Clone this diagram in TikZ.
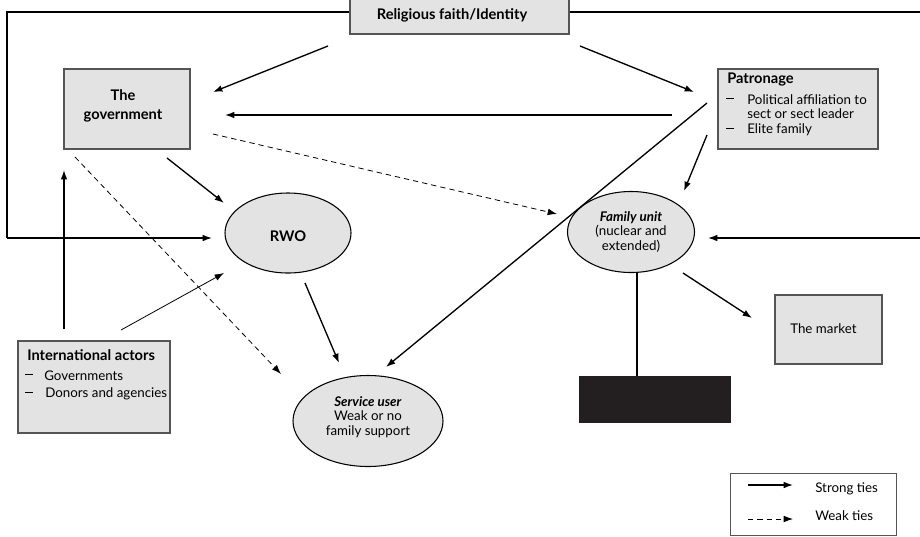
\documentclass[tikz,border=0pt]{standalone}
\usepackage{fontspec}
\setmainfont{Lato}
\usetikzlibrary{arrows.meta,fit,shapes.geometric}
\definecolor{boxfill}{HTML}{E3E3E3}
\definecolor{boxline}{HTML}{555555}
\definecolor{blk}{HTML}{231F20}
\newcommand{\mydash}{\rule[0.28em]{0.55em}{0.5pt}}
\begin{document}
\begin{tikzpicture}[x=0.75pt,y=-0.75pt,
 gbox/.style={draw=boxline,fill=boxfill,line width=0.8pt,inner sep=0pt},
 gell/.style={draw=black,fill=boxfill,ellipse,line width=0.8pt,inner sep=0pt},
 strong/.style={line width=1pt,-{Latex[length=7pt,width=5pt]}},
 thinarr/.style={line width=0.6pt,-{Latex[length=7pt,width=5pt]}},
 weak/.style={line width=0.6pt,dash pattern=on 4pt off 3pt,-{Latex[length=7pt,width=5pt]}},
 framel/.style={line width=1pt},
 txt/.style={font=\fontsize{10}{11}\selectfont,inner sep=0pt,align=center},
 ltxt/.style={font=\fontsize{10}{11}\selectfont,inner sep=0pt,anchor=west},
 btxt/.style={font=\fontsize{11}{11}\bfseries\selectfont,inner sep=0pt},
]
\useasboundingbox (0,0) rectangle (920,536);

% boxes
\node[gbox,fit={(350,-1) (569,34)}] (rel) {};
\node[gbox,fit={(64,69) (190,149)}] (gov) {};
\node[gbox,fit={(718,69) (878,149)}] (pat) {};
\node[gbox,fit={(18,341) (170,433)}] (intl) {};
\node[gbox,fit={(775,295) (882,364)}] (market) {};
\node[draw=blk,fill=blk,inner sep=0pt,fit={(579,376) (730,422)}] (blackbox) {};
\node[draw=boxline,line width=0.6pt,inner sep=0pt,fit={(730,473) (896,535)}] (legend) {};

% ellipses
\node[gell,minimum width=94.5pt,minimum height=60pt] (rwo) at (288,233) {};
\node[gell,minimum width=95.25pt,minimum height=60.75pt] (fam) at (631,232) {};
\node[gell,minimum width=112.5pt,minimum height=68.25pt] (su) at (368,421) {};

% texts
\node[btxt] (reltxt) at (452,15) {Religious faith/Identity};
\node[btxt,align=center,font=\fontsize{11}{14}\bfseries\selectfont] (govtxt) at (123,106) {The\\government};
\node[btxt,anchor=west] (pattxt) at (727,80) {Patronage};
\node[ltxt] (pat1a) at (726,100) {\mydash};
\node[ltxt] (pat1) at (747,100) {Political affiliation to};
\node[ltxt] (pat1b) at (747,114) {sect or sect leader};
\node[ltxt] (pat2a) at (726,130) {\mydash};
\node[ltxt] (pat2) at (747,130) {Elite family};
\node[btxt] (rwotxt) at (288,236) {RWO};
\node[txt] (famtxt) at (631,232) {\textbf{\textit{Family unit}}\\(nuclear and\\extended)};
\node[txt] (sutxt) at (368,417) {\textbf{\textit{Service user}}\\Weak or no\\family support};
\node[btxt,anchor=west] (intltxt) at (27,355) {International actors};
\node[ltxt] (intl1a) at (25,376) {\mydash};
\node[ltxt] (intl1) at (44,376) {Governments};
\node[ltxt] (intl2a) at (25,394) {\mydash};
\node[ltxt] (intl2) at (45,394) {Donors and agencies};
\node[ltxt] (mkttxt) at (790,329) {The market};
\node[ltxt] (strongtxt) at (815,489) {Strong ties};
\node[ltxt] (weaktxt) at (815,516) {Weak ties};

% coordinates
\coordinate (tl) at (7,12);
\coordinate (bl) at (7,238);
\coordinate (rwoin) at (212,238);
\coordinate (tr) at (920,12);
\coordinate (rr) at (920,238);
\coordinate (famin) at (708,238);
\coordinate (r1s) at (328,46);  \coordinate (r1e) at (213,92);
\coordinate (r2s) at (580,46);  \coordinate (r2e) at (694,92);
\coordinate (p1s) at (672,115); \coordinate (p1e) at (225,115);
\coordinate (g1s) at (213,134); \coordinate (g1e) at (557,214);
\coordinate (p2s) at (707,135); \coordinate (p2e) at (684,191);
\coordinate (p3s) at (707,103); \coordinate (p3e) at (386,367);
\coordinate (g2s) at (167,158); \coordinate (g2e) at (224,203);
\coordinate (g3s) at (75,157);  \coordinate (g3e) at (281,374);
\coordinate (i1s) at (64,329);  \coordinate (i1e) at (64,170);
\coordinate (i2s) at (121,330); \coordinate (i2e) at (224,273);
\coordinate (w1s) at (305,283); \coordinate (w1e) at (339,363);
\coordinate (f1s) at (683,273); \coordinate (f1e) at (752,318);
\coordinate (f2s) at (637,273);
\coordinate (ls1) at (748,485); \coordinate (le1) at (793,485);
\coordinate (ls2) at (748,519); \coordinate (le2) at (793,519);

% frame lines
\draw[framel] (rel.west |- tl) -- (tl) -- (bl);
\draw[strong] (bl) -- (rwoin);
\draw[framel] (rel.east |- tr) -- (tr);
\draw[strong] (rr) -- (famin);

% connectors
\draw[strong] (r1s) -- (r1e);
\draw[strong] (r2s) -- (r2e);
\draw[strong] (p1s) -- (p1e);
\draw[weak] (g1s) -- (g1e);
\draw[strong] (p2s) -- (p2e);
\draw[strong] (p3s) -- (p3e);
\draw[strong] (g2s) -- (g2e);
\draw[weak] (g3s) -- (g3e);
\draw[strong] (i1s) -- (i1e);
\draw[thinarr] (i2s) -- (i2e);
\draw[strong] (w1s) -- (w1e);
\draw[strong] (f1s) -- (f1e);
\draw[line width=1pt] (f2s) -- (f2s |- blackbox.north);

% legend
\draw[strong] (ls1) -- (le1);
\draw[weak] (ls2) -- (le2);
\end{tikzpicture}
\end{document}
